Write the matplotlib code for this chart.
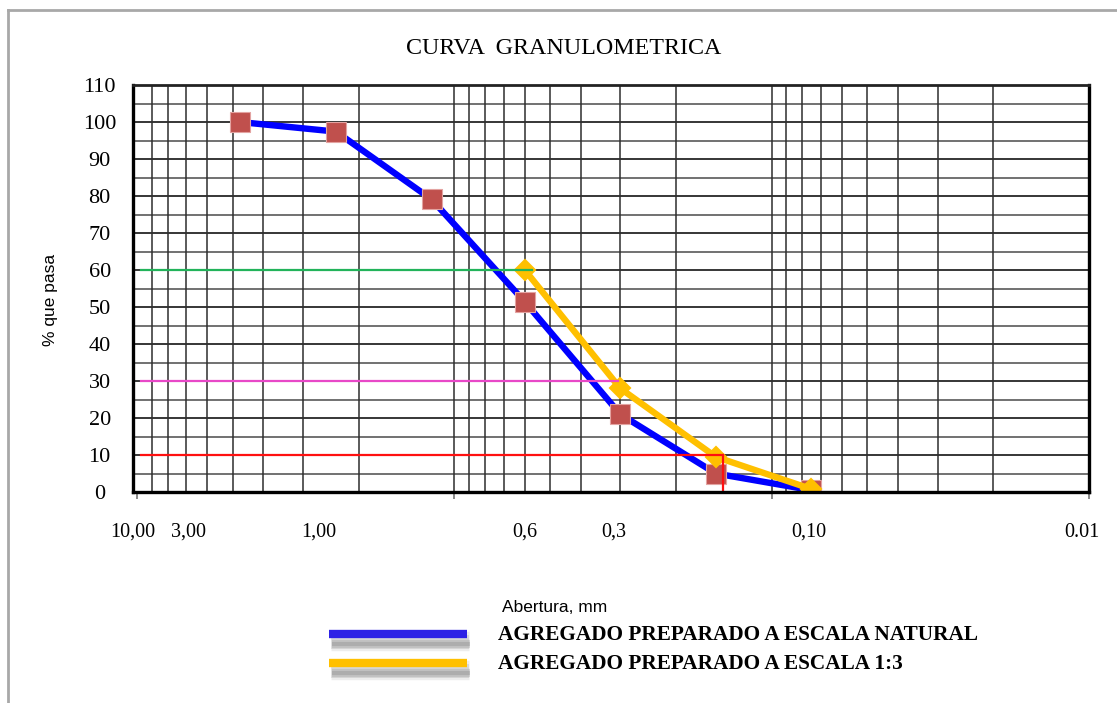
import matplotlib
matplotlib.use("Agg")
import matplotlib.pyplot as plt
import matplotlib.patheffects as pe
from matplotlib.lines import Line2D

# Sieve openings (mm) and percent passing
sieve_natural = [4.75, 2.36, 1.18, 0.6, 0.3, 0.15, 0.075]
pasa_natural = [100, 97.4, 79.1, 51.4, 21.0, 5.0, 0.5]

sieve_escala = [0.6, 0.3, 0.15, 0.075]
pasa_escala = [60, 28, 9.5, 0.8]

# Reference levels (D60, D30, D10)
ref_levels = [60, 30, 10]
ref_ends = [0.57, 0.305, 0.142]
ref_colors = ["#22B35A", "#E848C8", "#FF1010"]

# Axis labels
xtick_pos = [10.3, 6.9, 2.67, 0.6, 0.315, 0.0766, 0.0105]
xtick_labels = ["10,00", "3,00", "1,00", "0,6", "0,3", "0,10", "0.01"]
ytick_vals = list(range(0, 111, 10))

W, H = 1117, 703
fig = plt.figure(figsize=(W / 100, H / 100), dpi=100)
fig.patch.set_facecolor("white")

ax = fig.add_axes([133 / W, 1 - 492 / H, (1089 - 133) / W, (492 - 85) / H])
ax.set_xscale("log")
ax.set_xlim(10, 0.01)
ax.set_ylim(0, 110)

# grid: horizontal every 5, vertical log decades
for v in range(5, 110, 5):
    ax.axhline(v, color="black" if v % 10 == 0 else "#4a4a4a", lw=1.1, zorder=1)
for d in [0.01, 0.1, 1.0]:
    for k in range(1, 10):
        x = k * d
        if 0.01 < x < 10:
            ax.axvline(x, color="#2e2e2e", lw=1.1, zorder=1)

# series
ax.plot(sieve_natural, pasa_natural, color="#0000FF", lw=4.6, zorder=3,
        marker="s", markersize=14.5, markerfacecolor="#C0504D",
        markeredgecolor="#E3A3A1", markeredgewidth=0.8, solid_joinstyle="round")
ax.plot(sieve_escala, pasa_escala, color="#FFC000", lw=4.6, zorder=4,
        marker="D", markersize=10.5, markerfacecolor="#FFC000",
        markeredgecolor="#FFC000", markeredgewidth=1.5, solid_joinstyle="round")

# reference lines
for lvl, xe, c in zip(ref_levels, ref_ends, ref_colors):
    ax.plot([9.7, xe], [lvl, lvl], color=c, lw=1.6, zorder=5)
ax.plot([ref_ends[2], ref_ends[2]], [ref_levels[2], 0], color=ref_colors[2], lw=1.6, zorder=5)

# spines
for s in ["left", "bottom", "right"]:
    ax.spines[s].set_linewidth(2.4)
    ax.spines[s].set_color("black")
ax.spines["top"].set_linewidth(2.0)
ax.spines["top"].set_color("#222222")
for sp in ax.spines.values():
    sp.set_zorder(6)

# ticks
ax.set_xticks(xtick_pos)
ax.set_xticklabels(xtick_labels, fontfamily="Liberation Serif", fontsize=14.5)
ax.set_xticks([10, 1, 0.1, 0.01], minor=True)
ax.tick_params(axis="x", which="major", length=0, pad=22)
ax.tick_params(axis="x", which="minor", length=5, width=1.2, color="#777777",
               labelbottom=False, direction="out")
ax.set_yticks(ytick_vals)
ax.set_yticklabels([str(v) for v in ytick_vals], fontfamily="Liberation Serif",
                   fontsize=16, ha="center", va="center_baseline")
ax.tick_params(axis="y", length=0, pad=24)

# titles and axis names
fig.text(564 / W, 1 - 48.5 / H, "CURVA  GRANULOMETRICA", ha="center", va="center",
         fontfamily="Liberation Serif", fontsize=17.3)
fig.text(50 / W, 1 - 300 / H, "% que pasa", ha="center", va="center", rotation=90,
         fontfamily="Liberation Sans", fontsize=12.5)
fig.text(555 / W, 1 - 607 / H, "Abertura, mm", ha="center", va="center",
         fontfamily="Liberation Sans", fontsize=12.5)

# legend with soft shadows
shadow = [pe.SimpleLineShadow(offset=(1.5, -5), shadow_color="#bbbbbb", alpha=0.25, linewidth=14),
          pe.SimpleLineShadow(offset=(1.5, -6), shadow_color="#aaaaaa", alpha=0.3, linewidth=10),
          pe.SimpleLineShadow(offset=(2, -7), shadow_color="#999999", alpha=0.35, linewidth=6),
          pe.SimpleLineShadow(offset=(2, -7.5), shadow_color="#888888", alpha=0.35, linewidth=3),
          pe.Normal()]
legend_items = [("#2E22E6", "AGREGADO PREPARADO A ESCALA NATURAL", 634),
                ("#FFC000", "AGREGADO PREPARADO A ESCALA 1:3", 663)]
for col, label, yp in legend_items:
    ln = Line2D([329 / W, 467 / W], [1 - yp / H, 1 - yp / H], transform=fig.transFigure,
                color=col, lw=6, solid_capstyle="butt", path_effects=shadow)
    fig.add_artist(ln)
    fig.text(498 / W, 1 - (yp + 1) / H, label, ha="left", va="center",
             fontfamily="Liberation Serif", fontweight="bold", fontsize=15.3)

# outer chart frame
fig.add_artist(Line2D([8 / W, 1.0], [1 - 10 / H, 1 - 10 / H], transform=fig.transFigure,
                      color="#A8A8A8", lw=2))
fig.add_artist(Line2D([8 / W, 8 / W], [0, 1 - 10 / H], transform=fig.transFigure,
                      color="#A8A8A8", lw=2))

fig.savefig("out.png", dpi=100)
